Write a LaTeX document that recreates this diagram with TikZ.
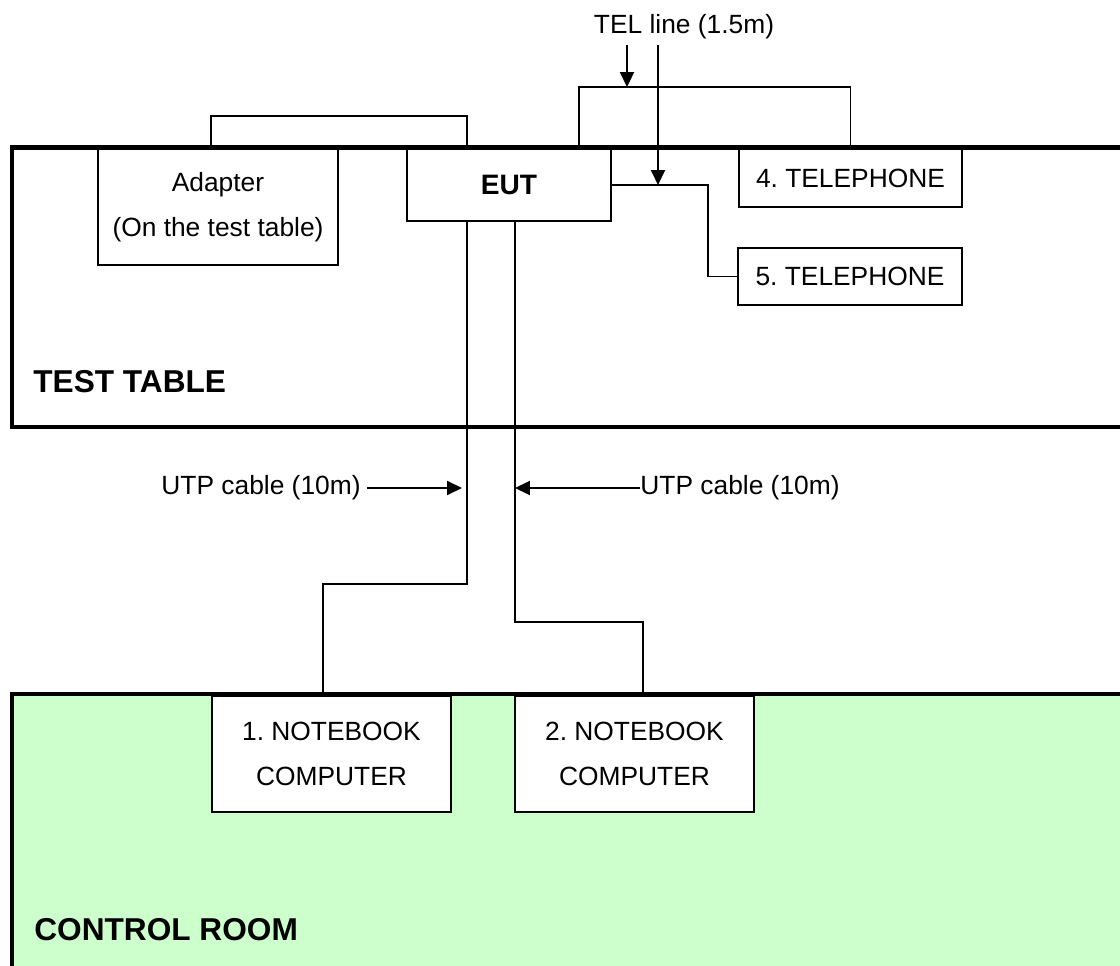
\documentclass[tikz,border=0pt]{standalone}
\usepackage{fontspec}
\setmainfont{Liberation Sans}
\usetikzlibrary{arrows.meta}
\definecolor{roomgreen}{HTML}{CCFFCC}
\frenchspacing
\tikzset{
  box/.style={draw, fill=white, line width=1.1pt, inner sep=0pt, align=center,
    font=\fontsize{15}{25.6}\selectfont},
  wire/.style={line width=1.1pt},
  room/.style={line width=2.8pt},
  lbl/.style={font=\fontsize{15}{18}\selectfont},
  roomlabel/.style={font=\fontsize{18}{22}\selectfont\bfseries, anchor=west, inner sep=0pt},
  cablearrow/.style={line width=1.1pt, -{Triangle[length=0.3cm, width=0.28cm]}},
}

\begin{document}
\begin{tikzpicture}[x=0.02cm, y=-0.02cm]
  \clip (0,0) rectangle (1120,966);
  \fill[roomgreen] (12,694) rectangle (1140,1000);

  \node[box, minimum width=4.8cm, minimum height=2.32cm] (adapter) at (218,207) {Adapter\\(On the test table)};
  \node[box, minimum width=4.08cm, minimum height=1.44cm, font=\fontsize{16}{18}\selectfont\bfseries] (eut) at (509,185) {EUT};
  \node[box, minimum width=4.46cm, minimum height=1.16cm] (tel4) at (850.5,178) {4. TELEPHONE};
  \node[box, minimum width=4.48cm, minimum height=1.14cm] (tel5) at (850,276.5) {5. TELEPHONE};
  \node[box, minimum width=4.78cm, minimum height=2.32cm] (nb1) at (331.5,754) {1. NOTEBOOK\\COMPUTER};
  \node[box, minimum width=4.78cm, minimum height=2.32cm] (nb2) at (634.5,754) {2. NOTEBOOK\\COMPUTER};

  \draw[room] (12,147.5) rectangle (1140,427);
  \draw[room] (12,694) rectangle (1140,1000);
  \node[roomlabel] (testtable) at (33,382) {TEST TABLE};
  \node[roomlabel] (controlroom) at (34,930) {CONTROL ROOM};

  \draw[wire] ([xshift=-0.14cm]adapter.north) -- ++(0,-32) -| ([xshift=-0.84cm]eut.north);
  \draw[wire] ([xshift=1.4cm]eut.north) -- ++(0,-61) coordinate (telwire) -| (tel4.north);
  \draw[wire] (eut.east) -- ++(96,0) |- (tel5.west);
  \draw[wire] ([xshift=-0.84cm]eut.south) coordinate (utp1) -- ++(0,362) -| ([xshift=-0.17cm]nb1.north);
  \draw[wire] ([xshift=0.12cm]eut.south) coordinate (utp2) -- ++(0,400) -| ([xshift=0.17cm]nb2.north);

  \node[lbl] (tel) at (684,27) {TEL line (1.5m)};
  \draw[cablearrow] ([xshift=-1.14cm]tel.south) -- ([xshift=-1.14cm]tel.south |- telwire);
  \draw[cablearrow] ([xshift=-0.52cm]tel.south) -- ([xshift=-0.52cm]tel.south |- eut.east);

  \node[lbl] (utpleft) at (261,488) {UTP cable (10m)};
  \draw[cablearrow, shorten >=0.1cm] (utpleft.east) -- (utpleft.east -| utp1);
  \node[lbl, inner xsep=0pt] (utpright) at (740,488) {UTP cable (10m)};
  \draw[cablearrow] (utpright.west) -- (utpright.west -| utp2);
\end{tikzpicture}
\end{document}
